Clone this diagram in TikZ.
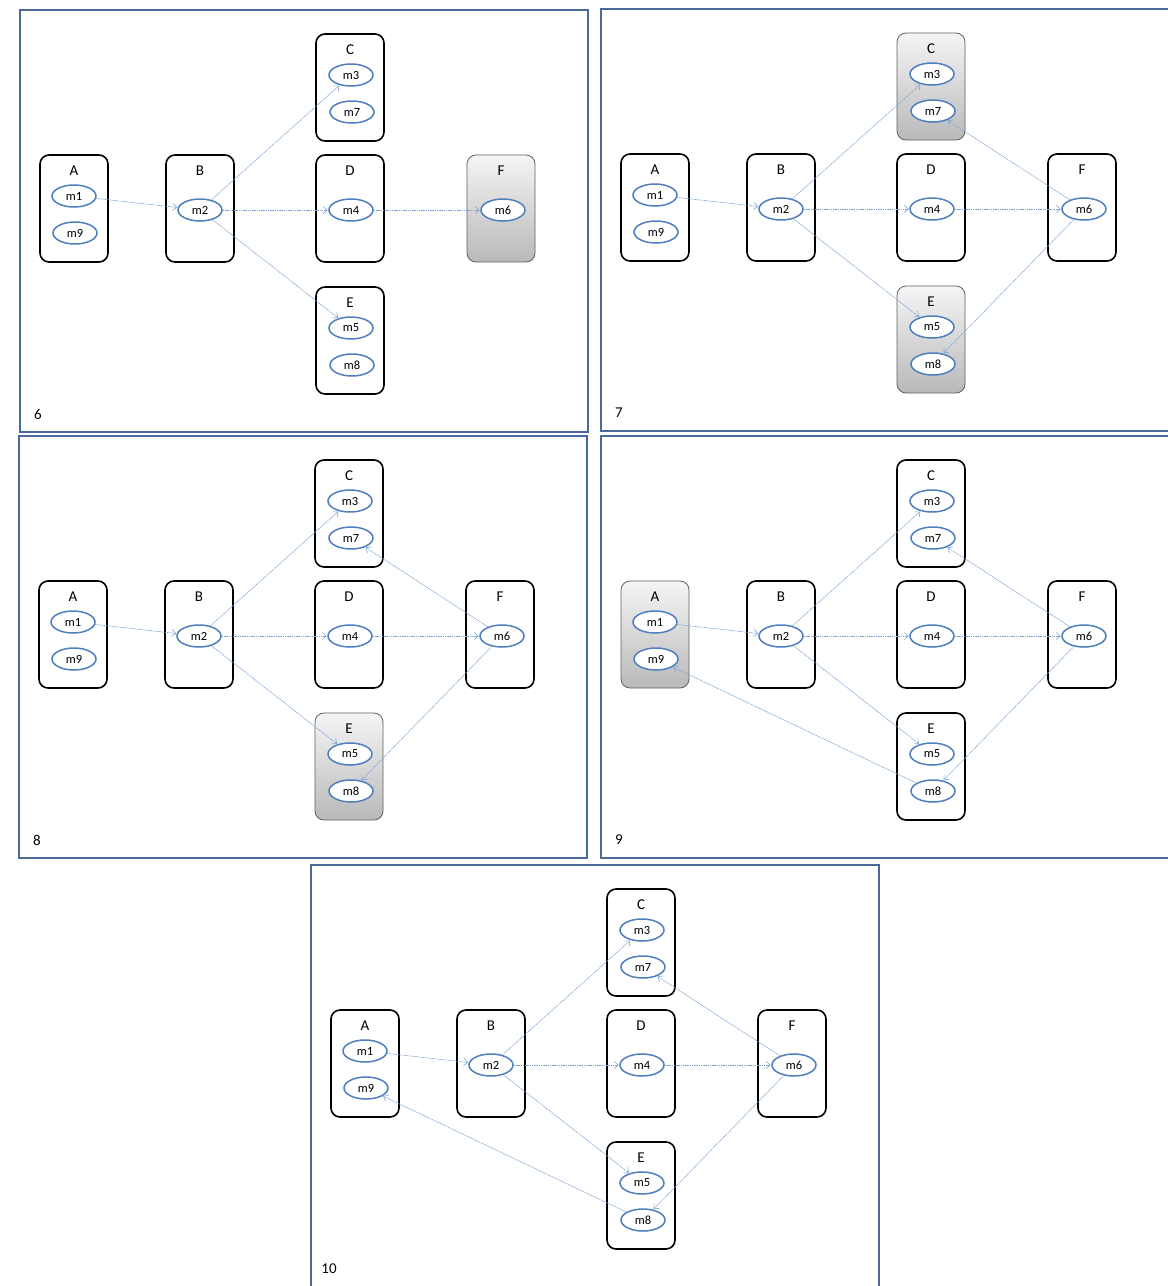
\documentclass[tikz,border=0pt]{standalone}
\usepackage{fontspec}
\setmainfont{Carlito}
\usetikzlibrary{arrows.meta,shapes.geometric,calc}
\definecolor{framecol}{HTML}{4A6A9B}
\definecolor{ellcol}{HTML}{4F7FBF}
\definecolor{arrcol}{HTML}{7FA5D5}
\tikzset{
  plainbox/.style={draw=black, line width=1.6pt, rounded corners=9pt, minimum width=68pt, minimum height=107pt, inner sep=0pt, fill=white},
  shadedbox/.style={draw=gray!75!black, line width=0.8pt, rounded corners=9pt, minimum width=68pt, minimum height=107pt, inner sep=0pt, top color=gray!8, bottom color=gray!55},
  boxtitle/.style={font=\fontsize{15}{17}\selectfont, inner sep=0pt},
  msg/.style={ellipse, draw=ellcol, line width=1.5pt, fill=white, minimum width=44pt, minimum height=22pt, inner sep=0pt, font=\fontsize{12.5}{14}\selectfont},
  flow/.style={draw=arrcol, line width=0.6pt, dash pattern=on 1.2pt off 0.6pt, -{Straight Barb[length=4pt,width=7pt,line width=0.6pt]}, shorten >=0.5pt},
  frame/.style={draw=framecol, line width=1.8pt},
  numlbl/.style={font=\fontsize{15}{17}\selectfont, inner sep=0pt}
}
% #1 prefix, #2 number, #3 style A, #4 style C, #5 style E, #6 style F
\newcommand\panelnodes[6]{%
  \draw[frame] (0,0) rectangle (568,422);
  \node[numlbl] (#1num) at (18,404) {#2};
  \node[#3] (#1A) at (54,198.5) {};
  \node[plainbox] (#1B) at (180,198.5) {};
  \node[#4] (#1C) at (330,77.5) {};
  \node[plainbox] (#1D) at (330,198.5) {};
  \node[#5] (#1E) at (330,330.5) {};
  \node[#6] (#1F) at (481,198.5) {};
  \node[boxtitle] (#1At) at (54,161) {A};
  \node[boxtitle] (#1Bt) at (180,161) {B};
  \node[boxtitle] (#1Ct) at (330,40) {C};
  \node[boxtitle] (#1Dt) at (330,161) {D};
  \node[boxtitle] (#1Et) at (330,293) {E};
  \node[boxtitle] (#1Ft) at (481,161) {F};
  \node[msg] (#1m1) at (54,186) {m1};
  \node[msg] (#1m9) at (55,223) {m9};
  \node[msg] (#1m2) at (180,200) {m2};
  \node[msg] (#1m3) at (331,65) {m3};
  \node[msg] (#1m7) at (332,102) {m7};
  \node[msg] (#1m4) at (331,200) {m4};
  \node[msg] (#1m5) at (331,318) {m5};
  \node[msg] (#1m8) at (332,355) {m8};
  \node[msg] (#1m6) at (483,200) {m6};
}
\newcommand\basearrows[1]{%
  \draw[flow] (#1m1) -- (#1m2);
  \draw[flow] (#1m2) -- (#1m3);
  \draw[flow] (#1m2) -- (#1m4);
  \draw[flow] (#1m2) -- (#1m5);
  \draw[flow] (#1m4) -- (#1m6);
}
\newcommand\backarrows[1]{%
  \draw[flow] (#1m6) -- (#1m7);
  \draw[flow] (#1m6) -- (#1m8);
}
\newcommand\returnarrow[1]{%
  \draw[flow] (#1m8) -- (#1m9);
}
\begin{document}
\begin{tikzpicture}[x=1pt,y=-1pt]
\useasboundingbox[fill=white] (0,0) rectangle (1168,1286);
\begin{scope}[shift={(20,10)}]
  \panelnodes{p6}{6}{plainbox}{plainbox}{plainbox}{shadedbox}
  \basearrows{p6}
\end{scope}
\begin{scope}[shift={(601,9)}]
  \panelnodes{p7}{7}{plainbox}{shadedbox}{shadedbox}{plainbox}
  \basearrows{p7}
  \backarrows{p7}
\end{scope}
\begin{scope}[shift={(19,436)}]
  \panelnodes{p8}{8}{plainbox}{plainbox}{shadedbox}{plainbox}
  \basearrows{p8}
  \backarrows{p8}
\end{scope}
\begin{scope}[shift={(601,436)}]
  \panelnodes{p9}{9}{shadedbox}{plainbox}{plainbox}{plainbox}
  \basearrows{p9}
  \backarrows{p9}
  \returnarrow{p9}
\end{scope}
\begin{scope}[shift={(311,865)}]
  \panelnodes{p10}{10}{plainbox}{plainbox}{plainbox}{plainbox}
  \basearrows{p10}
  \backarrows{p10}
  \returnarrow{p10}
\end{scope}
\end{tikzpicture}
\end{document}
